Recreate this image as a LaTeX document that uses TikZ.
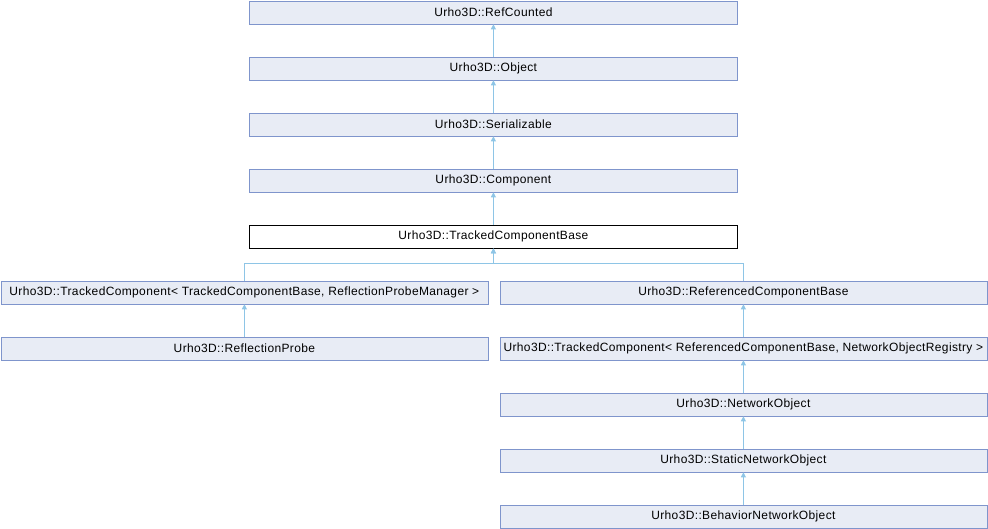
\documentclass[tikz,border=0pt]{standalone}
\usepackage{fontspec}
\setmainfont{Liberation Sans}[LetterSpace=3]
\usetikzlibrary{arrows.meta}
\definecolor{boxfill}{HTML}{E8ECF5}
\definecolor{boxline}{HTML}{7F95CC}
\definecolor{edgecol}{HTML}{8EC5E6}
\begin{document}
\begin{tikzpicture}[x=1pt,y=-1pt,
  cls/.style={draw=boxline,fill=boxfill,line width=0.8pt,minimum height=23pt,inner sep=0pt,font=\fontsize{12}{14}\selectfont,anchor=north west},
  cur/.style={cls,draw=black,fill=white},
  inh/.style={draw=edgecol,line width=0.9pt,{Triangle[length=5pt,width=5pt]}-}]
\useasboundingbox (0,0) rectangle (988,528);
\node[cls,minimum width=488pt] (rc) at (249,0.5) {Urho3D::RefCounted};
\node[cls,minimum width=488pt] (ob) at (249,56.5) {Urho3D::Object};
\node[cls,minimum width=488pt] (se) at (249,112.5) {Urho3D::Serializable};
\node[cls,minimum width=488pt] (co) at (249,168.5) {Urho3D::Component};
\node[cur,minimum width=488pt] (tb) at (249,224.5) {Urho3D::TrackedComponentBase};
\node[cls,minimum width=487pt] (tl) at (0.5,280.5) {Urho3D::TrackedComponent< TrackedComponentBase, ReflectionProbeManager >};
\node[cls,minimum width=487pt] (rb) at (499.5,280.5) {Urho3D::ReferencedComponentBase};
\node[cls,minimum width=487pt] (rp) at (0.5,336.5) {Urho3D::ReflectionProbe};
\node[cls,minimum width=487pt] (tr) at (499.5,336.5) {Urho3D::TrackedComponent< ReferencedComponentBase, NetworkObjectRegistry >};
\node[cls,minimum width=487pt] (no) at (499.5,392.5) {Urho3D::NetworkObject};
\node[cls,minimum width=487pt] (sn) at (499.5,448.5) {Urho3D::StaticNetworkObject};
\node[cls,minimum width=487pt] (bn) at (499.5,504.5) {Urho3D::BehaviorNetworkObject};
\coordinate (bar) at (0,263.5);
\draw[inh] (rc.south) -- (ob.north);
\draw[inh] (ob.south) -- (se.north);
\draw[inh] (se.south) -- (co.north);
\draw[inh] (co.south) -- (tb.north);
\draw[inh] (tb.south) -- (tb.south |- bar) -| (tl.north);
\draw[inh] (tb.south) -- (tb.south |- bar) -| (rb.north);
\draw[inh] (tl.south) -- (rp.north);
\draw[inh] (rb.south) -- (tr.north);
\draw[inh] (tr.south) -- (no.north);
\draw[inh] (no.south) -- (sn.north);
\draw[inh] (sn.south) -- (bn.north);
\end{tikzpicture}
\end{document}
